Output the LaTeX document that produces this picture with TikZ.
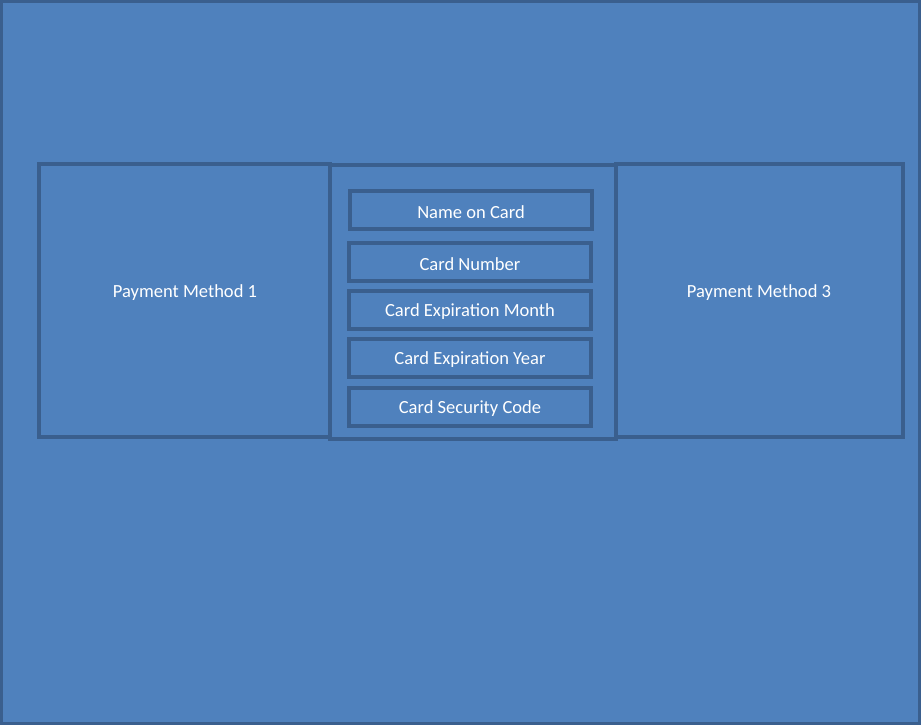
\documentclass[tikz,border=0pt]{standalone}
\usepackage{fontspec}
\setmainfont{Carlito}
\definecolor{boxfill}{HTML}{4F81BD}
\definecolor{boxline}{HTML}{3A5F8E}
\begin{document}
\begin{tikzpicture}[x=0.75pt,y=-0.75pt,
  panel/.style={draw=boxline,fill=boxfill,line width=2.4pt},
  lbl/.style={text=white,font=\fontsize{13.9}{16}\selectfont,inner sep=0pt}]
\useasboundingbox (0,0) rectangle (921,725);
\draw[panel] (1.5,1.5) rectangle (919.5,723.5);
\draw[panel] (39,164) rectangle (330,437);
\draw[panel] (616,164) rectangle (903,437);
\draw[panel] (330,165) rectangle (616,439);
\draw[panel] (350,191) rectangle (592,229);
\draw[panel] (349,243) rectangle (591,281);
\draw[panel] (349,291) rectangle (591,329);
\draw[panel] (349,339) rectangle (591,377);
\draw[panel] (349,388) rectangle (591,426);
\node[lbl] (pm1) at (185,293) {Payment Method 1};
\node[lbl] (pm3) at (759,293) {Payment Method 3};
\node[lbl] (name) at (471,212) {Name on Card};
\node[lbl] (num) at (470,264) {Card Number};
\node[lbl] (month) at (470,312) {Card Expiration Month};
\node[lbl] (year) at (470,360) {Card Expiration Year};
\node[lbl] (sec) at (470,409) {Card Security Code};
\end{tikzpicture}
\end{document}
